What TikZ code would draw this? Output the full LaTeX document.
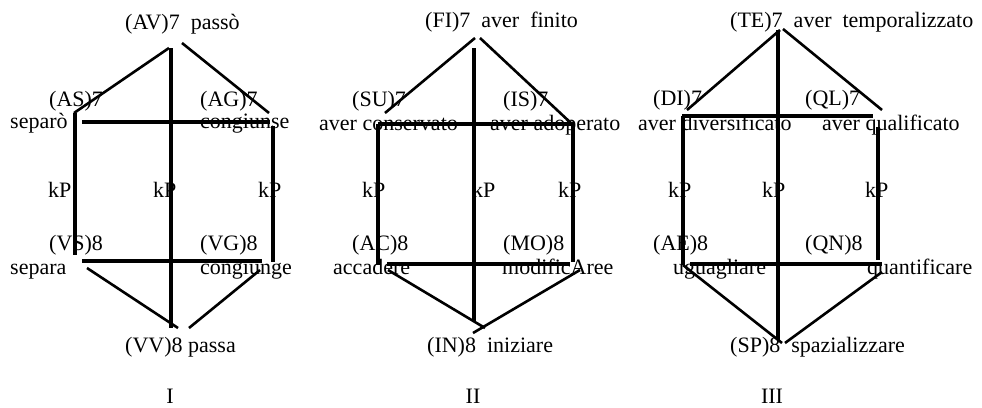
\documentclass[tikz,border=0pt]{standalone}
\usepackage{fontspec}
\setmainfont{Liberation Serif}
\usepackage{tikz}

\begin{document}
\begin{tikzpicture}[x=1pt, y=-1pt,
    verb node/.style={anchor=base west, inner sep=0pt, font=\fontsize{22}{22}\selectfont},
    roman node/.style={anchor=base, inner sep=0pt, font=\fontsize{22}{22}\selectfont},
    box line/.style={line width=3.2pt},
    slant line/.style={line width=2.6pt}]
    \useasboundingbox (0,0) rectangle (982,407);

    % square I
    \node[verb node] (av) at (125,29) {(AV)7\ \ passò};
    \node[verb node] (ascode) at (49,106) {(AS)7};
    \node[verb node] (asword) at (10,128) {separò};
    \node[verb node] (agcode) at (200,106) {(AG)7};
    \node[verb node] (agword) at (200,128) {congiunse};
    \node[verb node] (kpIa) at (48,197) {kP};
    \node[verb node] (kpIb) at (153,197) {kP};
    \node[verb node] (kpIc) at (258,197) {kP};
    \node[verb node] (vscode) at (49,250) {(VS)8};
    \node[verb node] (vsword) at (10,274) {separa};
    \node[verb node] (vgcode) at (200,250) {(VG)8};
    \node[verb node] (vgword) at (200,274) {congiunge};
    \node[verb node] (vv) at (125,352) {(VV)8 passa};
    \node[roman node] (one) at (170,403) {I};

    \coordinate (avleft) at (169,48);
    \coordinate (avright) at (182,43);
    \coordinate (avmid) at (171,48);
    \coordinate (asend) at (74,113);
    \coordinate (agend) at (269,113);
    \coordinate (astop) at (75,113);
    \coordinate (asbot) at (75,255);
    \coordinate (agtop) at (273,126);
    \coordinate (agbot) at (273,262);
    \coordinate (topIl) at (82,122);
    \coordinate (topIr) at (270,122);
    \coordinate (botIl) at (82,261);
    \coordinate (botIr) at (262,261);
    \coordinate (vsend) at (87,268);
    \coordinate (vgend) at (260,270);
    \coordinate (vvleft) at (178,328);
    \coordinate (vvright) at (189,328);
    \coordinate (vvmid) at (171,328);

    \draw[slant line] (avleft) -- (asend);
    \draw[slant line] (avright) -- (agend);
    \draw[box line] (avmid) -- (vvmid);
    \draw[box line] (topIl) -- (topIr);
    \draw[box line] (astop) -- (asbot);
    \draw[box line] (agtop) -- (agbot);
    \draw[box line] (botIl) -- (botIr);
    \draw[slant line] (vsend) -- (vvleft);
    \draw[slant line] (vvright) -- (vgend);

    % square II
    \node[verb node] (fi) at (425,27) {(FI)7\ \ aver\ \ finito};
    \node[verb node] (sucode) at (352,106) {(SU)7};
    \node[verb node] (suword) at (319,130) {aver conservato};
    \node[verb node] (iscode) at (503,106) {(IS)7};
    \node[verb node] (isword) at (490,130) {aver adoperato};
    \node[verb node] (kpIIa) at (362,197) {kP};
    \node[verb node] (kpIIb) at (472,197) {kP};
    \node[verb node] (kpIIc) at (558,197) {kP};
    \node[verb node] (accode) at (352,250) {(AC)8};
    \node[verb node] (acword) at (333,274) {accadere};
    \node[verb node] (mocode) at (503,250) {(MO)8};
    \node[verb node] (moword) at (502,274) {modificAree};
    \node[verb node] (in) at (427,352) {(IN)8\ \ iniziare};
    \node[roman node] (two) at (473,403) {II};

    \coordinate (fileft) at (475,38);
    \coordinate (firight) at (480,38);
    \coordinate (fimid) at (474,48);
    \coordinate (suend) at (385,113);
    \coordinate (isend) at (572,124);
    \coordinate (sutop) at (378,124);
    \coordinate (subot) at (378,265);
    \coordinate (istop) at (573,124);
    \coordinate (isbot) at (573,262);
    \coordinate (topIIl) at (378,124);
    \coordinate (topIIr) at (575,124);
    \coordinate (botIIl) at (387,264);
    \coordinate (botIIr) at (570,264);
    \coordinate (acend) at (388,270);
    \coordinate (moend) at (580,270);
    \coordinate (inleft) at (485,328);
    \coordinate (inright) at (473,333);
    \coordinate (inmid) at (474,322);

    \draw[slant line] (fileft) -- (suend);
    \draw[slant line] (firight) -- (isend);
    \draw[box line] (fimid) -- (inmid);
    \draw[box line] (topIIl) -- (topIIr);
    \draw[box line] (sutop) -- (subot);
    \draw[box line] (istop) -- (isbot);
    \draw[box line] (botIIl) -- (botIIr);
    \draw[slant line] (acend) -- (inleft);
    \draw[slant line] (inright) -- (moend);

    % square III
    \node[verb node] (te) at (730,27) {(TE)7\ \ aver\ \ temporalizzato};
    \node[verb node] (dicode) at (653,105) {(DI)7};
    \node[verb node] (diword) at (638,130) {aver diversificato};
    \node[verb node] (qlcode) at (805,105) {(QL)7};
    \node[verb node] (qlword) at (822,130) {aver qualificato};
    \node[verb node] (kpIIIa) at (668,197) {kP};
    \node[verb node] (kpIIIb) at (762,197) {kP};
    \node[verb node] (kpIIIc) at (865,197) {kP};
    \node[verb node] (aecode) at (653,250) {(AE)8};
    \node[verb node] (aeword) at (673,274) {uguagliare};
    \node[verb node] (qncode) at (805,250) {(QN)8};
    \node[verb node] (qnword) at (867,274) {quantificare};
    \node[verb node] (sp) at (730,352) {(SP)8\ \ spazializzare};
    \node[roman node] (three) at (772,403) {III};

    \coordinate (teleft) at (780,30);
    \coordinate (teright) at (783,29);
    \coordinate (temid) at (778,30);
    \coordinate (diend) at (687,110);
    \coordinate (qlend) at (882,110);
    \coordinate (ditop) at (683,116);
    \coordinate (dibot) at (683,265);
    \coordinate (qltop) at (878,127);
    \coordinate (qlbot) at (878,260);
    \coordinate (topIIIl) at (682,116);
    \coordinate (topIIIr) at (873,116);
    \coordinate (botIIIl) at (690,264);
    \coordinate (botIIIr) at (882,264);
    \coordinate (aeend) at (683,265);
    \coordinate (qnend) at (882,272);
    \coordinate (spleft) at (782,343);
    \coordinate (spright) at (785,343);
    \coordinate (spmid) at (778,340);

    \draw[slant line] (teleft) -- (diend);
    \draw[slant line] (teright) -- (qlend);
    \draw[box line] (temid) -- (spmid);
    \draw[box line] (topIIIl) -- (topIIIr);
    \draw[box line] (ditop) -- (dibot);
    \draw[box line] (qltop) -- (qlbot);
    \draw[box line] (botIIIl) -- (botIIIr);
    \draw[slant line] (aeend) -- (spleft);
    \draw[slant line] (spright) -- (qnend);
\end{tikzpicture}
\end{document}
